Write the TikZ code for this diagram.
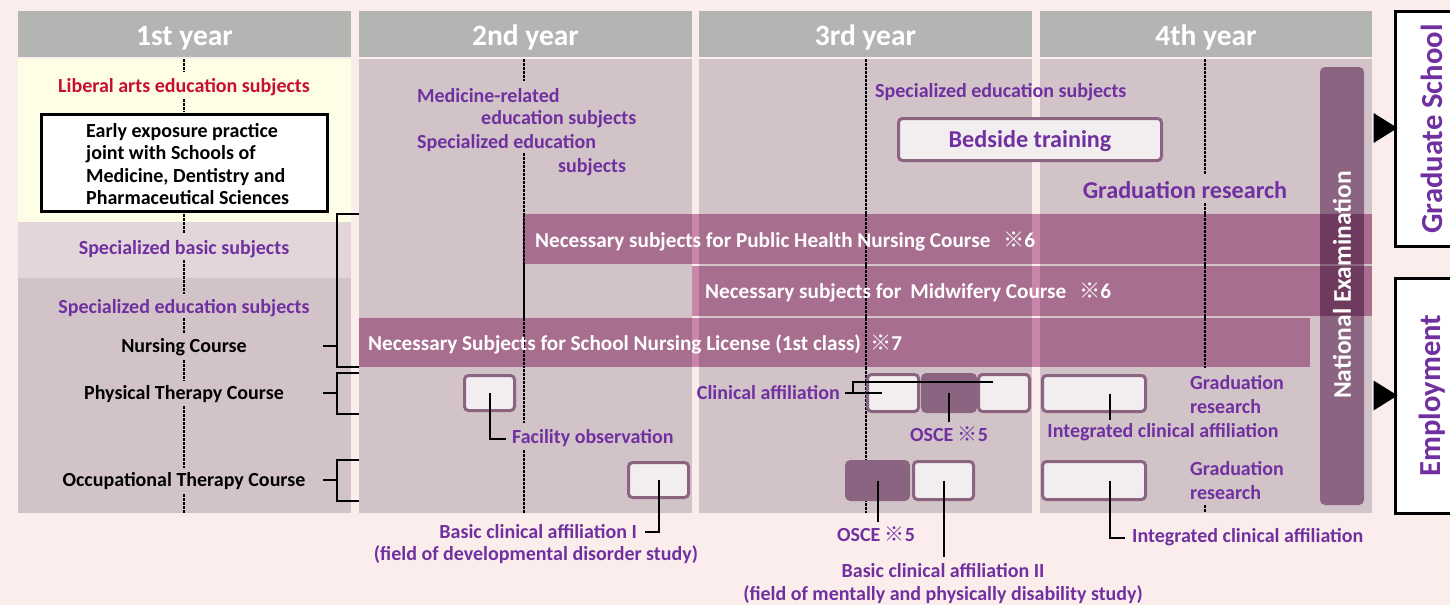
\documentclass[tikz,border=0pt]{standalone}
\usepackage{fontspec}
\setmainfont{Carlito}
\newfontfamily\cjk{Noto Sans CJK JP}
\usetikzlibrary{calc}
\definecolor{bgpink}{RGB}{252,237,237}
\definecolor{hdr}{RGB}{179,181,179}
\definecolor{mauve}{RGB}{210,195,201}
\definecolor{lightm}{RGB}{226,214,219}
\definecolor{yel}{RGB}{254,253,229}
\definecolor{barc}{RGB}{168,110,143}
\definecolor{barlight}{RGB}{201,134,168}
\definecolor{examc}{RGB}{138,100,128}
\definecolor{examdark}{RGB}{110,58,93}
\definecolor{boxline}{RGB}{138,100,128}
\definecolor{boxfill}{RGB}{242,238,240}
\definecolor{purp}{RGB}{112,48,160}
\definecolor{redt}{RGB}{200,16,46}
\tikzset{
  lbl/.style={font=\bfseries\fontsize{20}{24}\selectfont, text=purp, inner sep=0pt, yshift=-1.5pt},
  biglbl/.style={font=\bfseries\fontsize{24.2}{28}\selectfont, text=purp, inner sep=0pt},
  blk/.style={font=\bfseries\fontsize{20}{22.4}\selectfont, text=black, inner sep=0pt, yshift=-1.5pt},
  bartxt/.style={font=\bfseries\fontsize{21.2}{24}\selectfont, text=white, inner sep=0pt, anchor=west, yshift=-1pt},
  hdrbox/.style={fill=hdr, minimum height=46pt, inner sep=0pt, text=white, text height=22pt, text depth=0pt, font=\bfseries\fontsize{29.5}{32}\selectfont},
  pbox/.style={draw=boxline, line width=3pt, fill=boxfill, rounded corners=4pt, inner sep=0pt},
  dbox/.style={draw=boxline, line width=3pt, fill=boxline, rounded corners=4pt, inner sep=0pt},
  dots/.style={line width=2.5pt, dash pattern=on 2.5pt off 1.5pt},
  conn/.style={line width=2pt},
  brk/.style={line width=2pt},
  dest/.style={draw=black, line width=3pt, fill=white, inner sep=0pt, text=purp, font=\bfseries\fontsize{30.6}{34}\selectfont},
}
\begin{document}
\begin{tikzpicture}[x=1pt,y=-1pt]
\fill[bgpink] (0,0) rectangle (1450,605);
\useasboundingbox (0,0) rectangle (1450,605);
% headers
\node[hdrbox, minimum width=333pt] (h1) at (184.5,34) {1st year};
\node[hdrbox, minimum width=333pt] (h2) at (525.5,34) {2nd year};
\node[hdrbox, minimum width=333pt] (h3) at (865.5,34) {3rd year};
\node[hdrbox, minimum width=332pt] (h4) at (1206,34) {4th year};
% column bodies
\fill[yel] (18,59) rectangle (351,222);
\fill[lightm] (18,222) rectangle (351,278);
\fill[mauve] (18,278) rectangle (351,513);
\fill[mauve] (359,59) rectangle (692,513);
\fill[mauve] (699,59) rectangle (1032,513);
\fill[mauve] (1040,59) rectangle (1372,513);
% dotted guide lines
\foreach \a/\b in {59/72,99/112,214/234,260/294,318/333,360/381,406/468,494/513}
  \draw[dots] (184,\a) -- (184,\b);
\foreach \a/\b in {59/81,153/423,450/513}
  \draw[dots] (524,\a) -- (524,\b);
\draw[dots] (866,59) -- (866,513);
\foreach \a/\b in {59/175,203/368,505/513}
  \draw[dots] (1205,\a) -- (1205,\b);
% course bars
\fill[barc] (524,214) rectangle (1372,264);
\fill[barc] (692,266) rectangle (1372,316);
\fill[barc] (359,318) rectangle (1310,367);
\fill[barlight] (692,214) rectangle (699,264);
\fill[barlight] (692,266) rectangle (699,316);
\fill[barlight] (692,318) rectangle (699,367);
\fill[barlight] (1032,214) rectangle (1040,264);
\fill[barlight] (1032,266) rectangle (1040,316);
\fill[barlight] (1032,318) rectangle (1040,367);
\foreach \x in {524,866,1205} \draw[dots] (\x,214) -- (\x,367);
% national examination bar
\fill[examc, rounded corners=5pt] (1320,67) rectangle (1364,505);
\fill[examdark] (1320,214) rectangle (1364,264);
\fill[examdark] (1320,266) rectangle (1364,316);
\node[bartxt] (ph) at (535,240) {Necessary subjects for Public Health Nursing Course\hspace{0.6em}{\cjk ※}6};
\node[bartxt] (mw) at (705,291) {Necessary subjects for\hspace{0.2em} Midwifery Course\hspace{0.6em}{\cjk ※}6};
\node[bartxt] (sn) at (368,343) {Necessary Subjects for School Nursing License (1st class) \hspace{0.2em}{\cjk ※}7};
\node[rotate=90, font=\bfseries\fontsize{25.5}{28}\selectfont, text=white, inner sep=0pt] (exam) at (1342,285) {National Examination};
% column 1
\node[font=\bfseries\fontsize{20}{24}\selectfont, text=redt, inner sep=0pt, yshift=-1.5pt] (lib) at (184,86) {Liberal arts education subjects};
\node[draw=black, line width=3pt, fill=white, minimum width=286pt, minimum height=97pt, inner sep=0pt] (early) at (184.5,163) {};
\node[blk, anchor=west, align=left, yshift=1.5pt] (earlyt) at (86,164) {Early exposure practice\\joint with Schools of\\Medicine, Dentistry and\\Pharmaceutical Sciences};
\node[lbl] (sbs) at (184,248) {Specialized basic subjects};
\node[lbl] (ses) at (184,307) {Specialized education subjects};
\node[blk] (nc) at (184,346) {Nursing Course};
\node[blk] (ptc) at (184,393) {Physical Therapy Course};
\node[blk] (otc) at (184,480) {Occupational Therapy Course};
% brackets
\draw[brk] (323,346) -- (337,346);
\draw[brk] (359,214) -- (337,214) -- (337,367) -- (359,367);
\draw[brk] (323,393) -- (337,393);
\draw[brk] (359,373) -- (337,373) -- (337,414) -- (359,414);
\draw[brk] (323,480) -- (337,480);
\draw[brk] (359,460) -- (337,460) -- (337,501) -- (359,501);
% column 2
\node[lbl, anchor=west] (med1) at (417,94) {Medicine-related};
\node[lbl, anchor=west] (med2) at (481,118) {education subjects};
\node[lbl, anchor=west] (spe1) at (417,142) {Specialized education};
\node[lbl, anchor=west] (spe2) at (558,166) {subjects};
\node[pbox, minimum width=50pt, minimum height=35pt] (fac) at (489.5,393) {};
\node[lbl, anchor=west] (facl) at (512,437) {Facility observation};
\draw[conn] (fac.center) |- ($(facl.west)+(-6,0)$);
\node[pbox, minimum width=60pt, minimum height=35pt] (bc1) at (658.5,480) {};
\node[lbl, anchor=east] (bc1l) at (637,530) {Basic clinical affiliation I};
\node[lbl] (bc1l2) at (536,553) {(field of developmental disorder study)};
\draw[conn] (bc1.center) |- ($(bc1l.east)+(8,0)$);
% column 3
\node[lbl, anchor=west] (spec3) at (875,91) {Specialized education subjects};
\node[pbox, minimum width=263pt, minimum height=42pt, biglbl, text depth=0pt] (bed) at (1030,139.5) {Bedside training};
\node[biglbl] (grad3) at (1185,190) {Graduation research};
\node[pbox, minimum width=51pt, minimum height=37pt] (ptA) at (893,393) {};
\node[dbox, minimum width=53pt, minimum height=37pt] (ptB) at (949,393) {};
\node[pbox, minimum width=51pt, minimum height=37pt] (ptC) at (1004,393) {};
\node[lbl, anchor=east] (cla) at (840,391) {Clinical affiliation};
\draw[conn] ($(cla.east |- ptA.center)+(5,0)$) -- ($(ptA.center)+(-11,0)$);
\draw[conn] ($(cla.east |- ptA.center)+(13,0)$) |- ($(ptC.center)+(-11,-11)$);
\node[lbl] (osce1) at (949,433) {OSCE {\cjk ※}5};
\draw[conn] (ptB.center) -- ($(osce1.north)+(0,-5)$);
\node[dbox, minimum width=62pt, minimum height=38pt] (otA) at (877.5,480.5) {};
\node[pbox, minimum width=60pt, minimum height=38pt] (otB) at (943.5,480.5) {};
\node[lbl] (osce2) at (876,533) {OSCE {\cjk ※}5};
\draw[conn] (otA.center) -- ($(otA.center |- osce2.north)+(0,-5)$);
\node[lbl] (bc2l) at (943,569) {Basic clinical affiliation II};
\node[lbl] (bc2l2) at (943,593) {(field of mentally and physically disability study)};
\draw[conn] (otB.center) -- ($(otB.center |- bc2l.north)+(0,-6)$);
% column 4
\node[pbox, minimum width=103pt, minimum height=36pt] (int1) at (1094,393.5) {};
\node[lbl] (int1l) at (1163,431) {Integrated clinical affiliation};
\draw[conn] ($(int1.center)+(16,0)$) -- ($(int1.center |- int1l.north)+(16,-4)$);
\node[lbl, anchor=west, align=left] (gr1) at (1190,393) {Graduation\\research};
\node[pbox, minimum width=103pt, minimum height=38pt] (int2) at (1094,480.5) {};
\node[lbl, anchor=west] (int2l) at (1132,536) {Integrated clinical affiliation};
\draw[conn] ($(int2.center)+(16,0)$) |- ($(int2l.west)+(-7,0)$);
\node[lbl, anchor=west, align=left] (gr2) at (1190,479) {Graduation\\research};
% destinations
\node[dest, minimum width=74pt, minimum height=235pt] (gs) at (1432,129) {\rotatebox{90}{Graduate School}};
\node[dest, minimum width=74pt, minimum height=235pt] (emp) at (1432,395.5) {\rotatebox{90}{Employment}};
\fill ($(gs.west)+(4,-1)$) -- ++(-24,-15) -- ++(0,30) -- cycle;
\fill ($(emp.west)+(4,0)$) -- ++(-24,-15) -- ++(0,30) -- cycle;
\end{tikzpicture}
\end{document}
